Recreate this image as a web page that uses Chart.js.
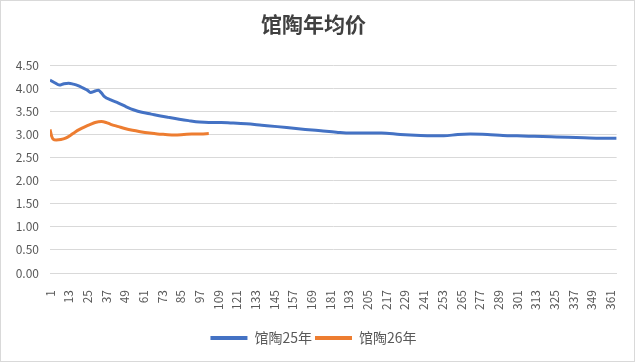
<!DOCTYPE html>
<html>
<head>
<meta charset="utf-8">
<script src="https://cdn.jsdelivr.net/npm/chart.js@4"></script>
<style>
  html, body { margin: 0; padding: 0; background: #fff; }
  #wrap { width: 635px; height: 362px; box-sizing: border-box; border: 1px solid #d9d9d9; }
</style>
</head>
<body>
<div id="wrap"><canvas id="chart" width="633" height="360"></canvas></div>
<script>
const titleText = "馆陶年均价";

// 馆陶25年 (blue): day index and average price
const days25 = [1, 4, 7, 10, 13, 16, 19, 22, 25, 27, 30, 32, 34, 36, 40, 45, 50, 55, 60, 66, 72, 77, 84, 90, 97, 103, 111, 117, 127, 137, 147, 156, 165, 175, 185, 194, 204, 214, 226, 239, 254, 263, 271, 282, 292, 301, 312, 323, 334, 344, 355, 365];
const values25 = [4.18, 4.12, 4.07, 4.10, 4.11, 4.09, 4.06, 4.01, 3.96, 3.91, 3.94, 3.96, 3.90, 3.82, 3.75, 3.68, 3.60, 3.53, 3.48, 3.44, 3.40, 3.37, 3.33, 3.30, 3.27, 3.26, 3.26, 3.25, 3.23, 3.20, 3.17, 3.14, 3.11, 3.08, 3.05, 3.03, 3.03, 3.03, 3.00, 2.98, 2.97, 3.00, 3.01, 3.00, 2.98, 2.97, 2.96, 2.95, 2.94, 2.93, 2.92, 2.92];

// 馆陶26年 (orange)
const days26 = [1, 2, 3, 5, 8, 11, 14, 17, 20, 23, 27, 30, 34, 37, 40, 45, 49, 54, 59, 65, 70, 75, 81, 87, 92, 98, 103];
const values26 = [3.11, 2.97, 2.90, 2.88, 2.89, 2.92, 2.98, 3.05, 3.11, 3.16, 3.22, 3.26, 3.28, 3.26, 3.22, 3.17, 3.13, 3.09, 3.06, 3.03, 3.01, 3.00, 2.99, 3.00, 3.01, 3.01, 3.02];

const xTicks = [1, 13, 25, 37, 49, 61, 73, 85, 97, 109, 121, 133, 145, 157, 169, 181, 193, 205, 217, 229, 241, 253, 265, 277, 289, 301, 313, 325, 337, 349, 361];

const toPoints = (xs, ys) => xs.map((x, i) => ({ x: x, y: ys[i] }));

const fontFamily = "'Noto Sans CJK SC', 'Noto Sans', sans-serif";

new Chart(document.getElementById("chart"), {
  type: "line",
  data: {
    datasets: [
      {
        label: "馆陶25年",
        data: toPoints(days25, values25),
        borderColor: "#4472C4",
        backgroundColor: "#4472C4",
        borderWidth: 3,
        pointRadius: 0,
        tension: 0.4,
        cubicInterpolationMode: "monotone",
        fill: false,
      },
      {
        label: "馆陶26年",
        data: toPoints(days26, values26),
        borderColor: "#ED7D31",
        backgroundColor: "#ED7D31",
        borderWidth: 3,
        pointRadius: 0,
        tension: 0.4,
        cubicInterpolationMode: "monotone",
        fill: false,
      },
    ],
  },
  options: {
    responsive: false,
    animation: false,
    layout: { padding: { left: 9, right: 17, top: 4, bottom: 6 } },
    scales: {
      x: {
        type: "linear",
        min: 1,
        max: 365,
        afterBuildTicks: (scale) => {
          scale.ticks = xTicks.map((v) => ({ value: v }));
        },
        afterFit: (scale) => {
          scale.height += 9; // gap between the rotated labels and the legend
        },
        grid: { display: false },
        border: { display: true, color: "#d9d9d9" },
        ticks: {
          autoSkip: false,
          minRotation: 90,
          maxRotation: 90,
          color: "#595959",
          font: { family: fontFamily, size: 12 },
          padding: 9,
        },
      },
      y: {
        min: 0,
        max: 4.5,
        afterFit: (scale) => {
          scale.width = 40;
        },
        grid: { color: "#d9d9d9", drawTicks: false },
        border: { display: false },
        ticks: {
          stepSize: 0.5,
          color: "#595959",
          font: { family: fontFamily, size: 12 },
          padding: 11,
          callback: (v) => Number(v).toFixed(2),
        },
      },
    },
    plugins: {
      title: {
        display: true,
        text: titleText,
        color: "#404040",
        font: { family: fontFamily, size: 21, weight: "bold" },
        padding: { top: 6, bottom: 29 },
      },
      legend: {
        position: "bottom",
        labels: {
          boxWidth: 37,
          boxHeight: 4,
          padding: 3,
          color: "#595959",
          font: { family: fontFamily, size: 14 },
          generateLabels: (chart) =>
            Chart.defaults.plugins.legend.labels.generateLabels(chart).map((l) => ({ ...l, lineWidth: 0 })),
        },
      },
      tooltip: { enabled: false },
    },
  },
});
</script>
</body>
</html>
